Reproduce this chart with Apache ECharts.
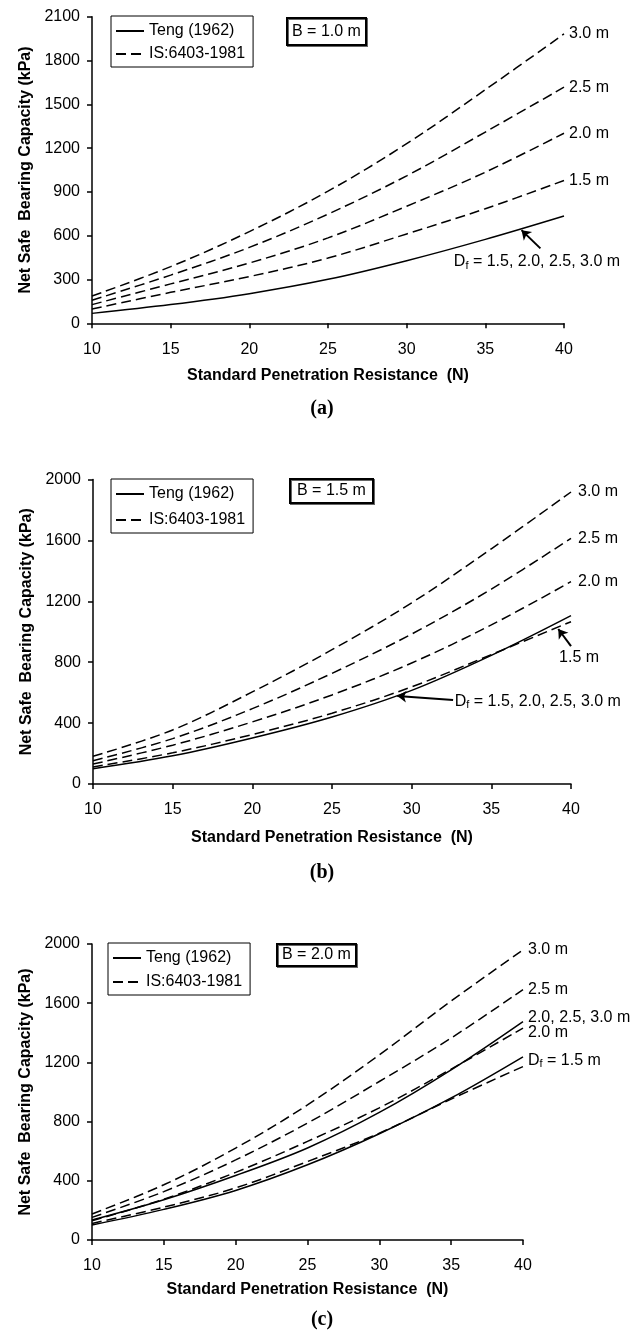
<!DOCTYPE html>
<html><head><meta charset="utf-8">
<script src="https://cdn.jsdelivr.net/npm/echarts@6.0.0/dist/echarts.min.js"></script>
<style>html,body{margin:0;padding:0;background:#fff}#c{width:644px;height:1332px}</style>
</head><body><div id="c"></div>
<script>
// ---------- DATA ----------
const N = [10, 15, 20, 25, 30, 35, 40];
// (a) B = 1.0 m
const tengA = [68, 128, 203, 301, 429, 575, 735];
const isA15 = [98, 212, 320, 447, 612, 785, 978];
const isA20 = [128, 270, 413, 585, 802, 1035, 1302];
const isA25 = [158, 330, 520, 748, 1010, 1310, 1617];
const isA30 = [187, 388, 628, 905, 1230, 1600, 1982];
// (b) B = 1.5 m
const tengB = [100, 185, 302, 440, 615, 845, 1106];
const isB15 = [112, 205, 325, 465, 638, 850, 1066];
const isB20 = [131, 255, 408, 585, 795, 1045, 1329];
const isB25 = [153, 298, 495, 727, 985, 1280, 1614];
const isB30 = [182, 355, 605, 882, 1190, 1545, 1918];
// (c) B = 2.0 m
const tengC15 = [102, 207, 335, 508, 718, 960, 1238];
const tengC20 = [135, 272, 436, 622, 862, 1150, 1476];
const isC15 = [112, 222, 352, 530, 722, 952, 1172];
const isC20 = [130, 276, 457, 666, 893, 1155, 1432];
const isC25 = [153, 327, 541, 790, 1071, 1365, 1692];
const isC30 = [176, 373, 621, 913, 1251, 1615, 1960];
// annotation anchor points (data space: [N, kPa])
const arrowA = [[38.5, 513], [37.3, 638]];
const textA = [33.0, 420];
const arrowB1 = [[32.6, 552], [29.1, 578]];
const textB1 = [32.7, 539];
const arrowB2 = [[40, 905], [39.2, 1018]];
const textB2 = [39.25, 828];

// ---------- CHART ----------
const FONT = '"Liberation Sans", Arial, sans-serif';
const TENG = 'Teng (1962)', IS = 'IS:6403-1981';
const DF_ALL = '{t|D}{s|f}{t| = 1.5, 2.0, 2.5, 3.0 m}';
const rich = {t: {fontSize: 16, fontFamily: FONT, color: '#000'},
              s: {fontSize: 11, fontFamily: FONT, color: '#000', padding: [7, 0, 0, 0]}};
function pts(v) { return N.map((n, i) => [n, v[i]]); }
const solid = {color: '#000', width: 1.5, type: 'solid'};
const dashed = {color: '#000', width: 1.5, type: [10, 5]};

function line(name, idx, vals, style, endText, offset) {
  const s = {
    type: 'line', name: name, xAxisIndex: idx, yAxisIndex: idx,
    data: pts(vals), symbol: 'none', smooth: 0.35, clip: false,
    lineStyle: style, itemStyle: {color: '#000'},
    emphasis: {disabled: true}, silent: true, z: 3
  };
  if (endText) {
    s.endLabel = {show: true, formatter: endText, distance: 5, offset: offset || [0, 0],
      fontSize: 16, fontFamily: FONT, color: '#000', rich: rich};
  }
  return s;
}
function annotate(series, arrow, textPos, text) {
  series.markLine = {
    silent: true, symbol: ['none', 'arrow'], symbolSize: 9, animation: false,
    lineStyle: {color: '#000', width: 2, type: 'solid'}, label: {show: false},
    data: [[{coord: arrow[0]}, {coord: arrow[1]}]]
  };
  series.markPoint = {silent: true, animation: false, symbol: 'circle', symbolSize: 0,
    data: [{coord: textPos, label: {show: true, position: 'right', distance: 0,
      formatter: text, fontSize: 16, fontFamily: FONT, color: '#000', rich: rich}}]};
}

const sA = [
  line(TENG, 0, tengA, solid),
  line(IS, 0, isA15, dashed, '1.5 m'),
  line(IS, 0, isA20, dashed, '2.0 m'),
  line(IS, 0, isA25, dashed, '2.5 m'),
  line(IS, 0, isA30, dashed, '3.0 m')
];
annotate(sA[0], arrowA, textA, DF_ALL);

const sB = [
  line(TENG, 1, tengB, solid),
  line(IS, 1, isB15, dashed),
  line(IS, 1, isB20, dashed, '2.0 m'),
  line(IS, 1, isB25, dashed, '2.5 m'),
  line(IS, 1, isB30, dashed, '3.0 m')
];
sB.forEach(s => { if (s.endLabel) s.endLabel.distance = 7; });
annotate(sB[0], arrowB1, textB1, DF_ALL);
annotate(sB[1], arrowB2, textB2, '1.5 m');

const sC = [
  line(TENG, 2, tengC15, solid, '{t|D}{s|f}{t| = 1.5 m}', [0, 4]),
  line(TENG, 2, tengC20, solid, '2.0, 2.5, 3.0 m', [0, -4]),
  line(IS, 2, isC15, dashed),
  line(IS, 2, isC20, dashed, '2.0 m', [0, 5]),
  line(IS, 2, isC25, dashed, '2.5 m'),
  line(IS, 2, isC30, dashed, '3.0 m')
];

const grids = [
  {left: 92, top: 16.7, width: 472, height: 306.6},
  {left: 93, top: 479.5, width: 478, height: 304.5},
  {left: 92, top: 944, width: 431, height: 296}
];
const xNameGap = [44, 46, 42];
const xAxes = grids.map((g, i) => ({
  type: 'value', gridIndex: i, min: 10, max: 40, interval: 5,
  name: 'Standard Penetration Resistance  (N)', nameLocation: 'middle', nameGap: xNameGap[i],
  nameTextStyle: {fontSize: 16, fontWeight: 'bold', fontFamily: FONT, color: '#000'},
  axisLine: {show: true, lineStyle: {color: '#000', width: 1.5}},
  axisTick: {show: true, length: 5, lineStyle: {color: '#000', width: 1.5}},
  axisLabel: {margin: 18, fontSize: 16, fontFamily: FONT, color: '#000', formatter: v => String(v)},
  splitLine: {show: false}
}));
const yMax = [2100, 2000, 2000], yInt = [300, 400, 400];
const yAxes = grids.map((g, i) => ({
  type: 'value', gridIndex: i, min: 0, max: yMax[i], interval: yInt[i],
  name: 'Net Safe  Bearing Capacity (kPa)', nameLocation: 'middle', nameGap: 54,
  nameTextStyle: {fontSize: 16, fontWeight: 'bold', fontFamily: FONT, color: '#000'},
  axisLine: {show: true, lineStyle: {color: '#000', width: 1.5}},
  axisTick: {show: true, length: 5, lineStyle: {color: '#000', width: 1.5}},
  axisLabel: {margin: 12, fontSize: 16, fontFamily: FONT, color: '#000', formatter: v => String(v)},
  splitLine: {show: false}
}));

const legendPos = [{left: 111, top: 16, gap: 7}, {left: 111, top: 479, gap: 10}, {left: 108, top: 943, gap: 8}];
const legends = legendPos.map(p => ({
  data: [TENG, IS], orient: 'vertical', left: p.left, top: p.top,
  itemWidth: 28, itemHeight: 16, itemGap: p.gap, padding: [7, 8, 5, 4],
  borderColor: '#000', borderWidth: 1, backgroundColor: '#fff',
  selectedMode: false,
  itemStyle: {color: 'rgba(0,0,0,0)', borderWidth: 0, opacity: 0},
  textStyle: {fontSize: 16, fontFamily: FONT, color: '#000'}
}));

const boxTitle = (text, left, top, pad) => ({
  text: text, left: left, top: top, padding: pad,
  borderWidth: 2, borderColor: '#000', backgroundColor: '#fff',
  shadowColor: '#666', shadowOffsetX: 1, shadowOffsetY: 1, shadowBlur: 0,
  textStyle: {fontSize: 16, fontWeight: 'normal', fontFamily: FONT, color: '#000'}
});
const subTitle = (text, top) => ({
  text: text, left: 'center', top: top, padding: 0,
  textStyle: {fontSize: 20, fontWeight: 'bold', fontFamily: '"Liberation Serif", "Times New Roman", serif', color: '#000'}
});

const chart = echarts.init(document.getElementById('c'), null, {renderer: 'canvas'});
chart.setOption({
  animation: false,
  backgroundColor: '#fff',
  title: [
    boxTitle('B = 1.0 m', 287, 18, [6, 5, 5, 5]),
    boxTitle('B = 1.5 m', 290, 479, [4, 7, 4, 7]),
    boxTitle('B = 2.0 m', 277, 944, [3, 5, 3, 5]),
    subTitle('(a)', 399), subTitle('(b)', 863), subTitle('(c)', 1310)
  ],
  legend: legends,
  grid: grids,
  xAxis: xAxes,
  yAxis: yAxes,
  series: sA.concat(sB, sC)
});
</script></body></html>
